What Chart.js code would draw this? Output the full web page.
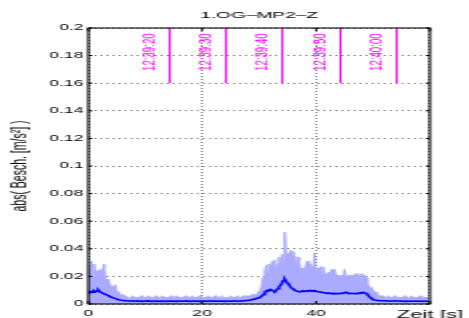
<!DOCTYPE html>
<html><head><meta charset="utf-8">
<script src="https://cdn.jsdelivr.net/npm/chart.js@4"></script>
<style>
html,body{margin:0;padding:0;background:#fff;overflow:hidden}
#wrap{position:absolute;left:0;top:0;width:234.5px;height:318px;transform:scaleX(2);transform-origin:0 0}
</style></head><body>
<div id="wrap"><canvas id="c"></canvas></div>
<script>
// sampling grid: one sample every 0.25 s from 0 to 60 s
const sampleStep = 0.25;
const timeS = [];
for (let i = 0; i <= 240; i++) timeS.push(i * sampleStep);

// envelope (max) of |acceleration| [m/s^2]
const envVals = [
 0.027,0.021,0.031,0.019,0.029,0.021,0.024,0.018,0.025,0.020,0.026,0.029,0.017,0.018,0.014,0.015,0.012,0.013,0.011,0.014,
 0.008,0.009,0.007,0.006,0.007,0.005,0.006,0.005,0.005,0.004,0.005,0.006,0.004,0.005,0.004,0.005,0.004,0.006,0.005,0.004,
 0.005,0.004,0.006,0.004,0.005,0.005,0.004,0.006,0.004,0.005,0.004,0.005,0.006,0.004,0.005,0.004,0.005,0.004,0.006,0.005,
 0.004,0.005,0.006,0.004,0.005,0.004,0.005,0.004,0.006,0.004,0.005,0.005,0.004,0.006,0.004,0.005,0.004,0.005,0.006,0.004,
 0.005,0.004,0.005,0.004,0.006,0.005,0.004,0.005,0.004,0.006,0.004,0.005,0.004,0.005,0.006,0.004,0.005,0.004,0.005,0.004,
 0.006,0.004,0.005,0.004,0.005,0.006,0.004,0.005,0.005,0.006,0.004,0.006,0.005,0.006,0.005,0.007,0.006,0.007,0.006,0.008,
 0.008,0.010,0.015,0.020,0.024,0.028,0.022,0.029,0.025,0.031,0.026,0.032,0.022,0.029,0.034,0.027,0.036,0.030,0.052,0.033,
 0.037,0.028,0.039,0.038,0.030,0.035,0.026,0.034,0.031,0.024,0.026,0.022,0.025,0.029,0.031,0.024,0.029,0.027,0.024,0.037,
 0.022,0.026,0.020,0.027,0.021,0.027,0.019,0.022,0.020,0.023,0.021,0.025,0.019,0.025,0.021,0.020,0.021,0.018,0.021,0.019,
 0.025,0.020,0.018,0.021,0.019,0.021,0.018,0.020,0.022,0.019,0.021,0.018,0.022,0.020,0.021,0.019,0.014,0.013,0.012,0.011,
 0.010,0.009,0.0085,0.007,0.006,0.006,0.005,0.006,0.005,0.004,0.005,0.006,0.004,0.005,0.004,0.006,0.005,0.004,0.005,0.004,
 0.005,0.004,0.006,0.004,0.005,0.004,0.005,0.006,0.004,0.005,0.004,0.005,0.004,0.006,0.005,0.004,0.005,0.004,0.005,0.004,
 0.004
];

// running mean of |acceleration| [m/s^2]
const meanVals = [
 0.0080,0.0090,0.0090,0.0085,0.0095,0.0088,0.0095,0.0100,0.0088,0.0085,0.0078,0.0075,0.0070,0.0065,0.0060,0.0055,0.0050,0.0046,0.0043,0.0040,
 0.0035,0.0032,0.0030,0.0028,0.0026,0.0025,0.0024,0.0023,0.0022,0.0022,0.0021,0.0022,0.0021,0.0020,0.0021,0.0022,0.0020,0.0021,0.0020,0.0021,
 0.0021,0.0020,0.0022,0.0020,0.0021,0.0020,0.0021,0.0022,0.0020,0.0021,0.0020,0.0021,0.0020,0.0022,0.0021,0.0020,0.0021,0.0020,0.0022,0.0021,
 0.0020,0.0021,0.0020,0.0022,0.0021,0.0020,0.0021,0.0020,0.0021,0.0022,0.0020,0.0021,0.0020,0.0021,0.0022,0.0020,0.0021,0.0020,0.0021,0.0020,
 0.0021,0.0022,0.0020,0.0021,0.0020,0.0021,0.0022,0.0020,0.0021,0.0020,0.0021,0.0020,0.0022,0.0021,0.0020,0.0021,0.0020,0.0022,0.0021,0.0020,
 0.0021,0.0020,0.0021,0.0022,0.0020,0.0021,0.0022,0.0021,0.0022,0.0023,0.0024,0.0025,0.0026,0.0028,0.0030,0.0032,0.0035,0.0038,0.0040,0.0043,
 0.0045,0.0050,0.0058,0.0068,0.0085,0.0095,0.0100,0.0098,0.0105,0.0100,0.0094,0.0090,0.0098,0.0110,0.0125,0.0135,0.0150,0.0170,0.0180,0.0165,
 0.0150,0.0138,0.0125,0.0115,0.0108,0.0100,0.0095,0.0092,0.0090,0.0088,0.0092,0.0094,0.0090,0.0095,0.0097,0.0094,0.0098,0.0096,0.0094,0.0098,
 0.0092,0.0090,0.0088,0.0087,0.0085,0.0083,0.0082,0.0080,0.0078,0.0080,0.0076,0.0078,0.0075,0.0077,0.0074,0.0076,0.0075,0.0078,0.0076,0.0080,
 0.0082,0.0085,0.0080,0.0078,0.0076,0.0078,0.0077,0.0075,0.0077,0.0076,0.0078,0.0082,0.0080,0.0084,0.0082,0.0078,0.0068,0.0058,0.0048,0.0040,
 0.0034,0.0030,0.0028,0.0026,0.0025,0.0024,0.0024,0.0023,0.0023,0.0022,0.0023,0.0022,0.0022,0.0021,0.0022,0.0021,0.0022,0.0021,0.0021,0.0020,
 0.0021,0.0020,0.0021,0.0020,0.0021,0.0020,0.0020,0.0021,0.0020,0.0020,0.0021,0.0020,0.0020,0.0021,0.0020,0.0020,0.0020,0.0021,0.0020,0.0020,
 0.0020
];

// clock-time markers
const markerTimes = [14, 24, 34, 44, 54];
const markerLabels = ['12:39:20', '12:39:30', '12:39:40', '12:39:50', '12:40:00'];
const markerTop = 0.2, markerBottom = 0.16, markerLabelY = 0.1825;

// ticks
const xTickValues = [0, 20, 40, 60];
const xTickLabels = ['0', '20', '40', 'Zeit [s]'];
const yTickValues = [0, 0.02, 0.04, 0.06, 0.08, 0.1, 0.12, 0.14, 0.16, 0.18, 0.2];
const yTickLabels = ['0', '0.02', '0.04', '0.06', '0.08', '0.1', '0.12', '0.14', '0.16', '0.18', '0.2'];

const FONT = '"Liberation Sans", Arial, Helvetica, sans-serif';

const matlabAxes = {
  id: 'matlabAxes',
  afterDraw(chart) {
    const {ctx, chartArea: a, scales: {x, y}} = chart;
    const line = (x1, y1, x2, y2) => { ctx.beginPath(); ctx.moveTo(x1, y1); ctx.lineTo(x2, y2); ctx.stroke(); };
    ctx.save();
    // markers
    ctx.strokeStyle = '#ff00ff';
    ctx.lineWidth = 1;
    markerTimes.forEach((t, i) => {
      const raw = x.getPixelForValue(t);
      const px = Math.round(raw) + 0.5;
      line(px, y.getPixelForValue(markerTop), px, y.getPixelForValue(markerBottom));
      ctx.save();
      ctx.translate(raw - 9.7, y.getPixelForValue(markerLabelY));
      ctx.rotate(-Math.PI / 2);
      ctx.fillStyle = '#ff00ff';
      ctx.font = '9.7px ' + FONT;
      ctx.textAlign = 'center';
      ctx.textBaseline = 'middle';
      ctx.fillText(markerLabels[i], 0, 0);
      ctx.restore();
    });
    // box
    ctx.strokeStyle = '#000';
    ctx.lineWidth = 1.1;
    ctx.strokeRect(a.left, a.top, a.right - a.left, a.bottom - a.top);
    ctx.lineWidth = 1;
    y.ticks.forEach(t => {
      const py = y.getPixelForValue(t.value);
      line(a.left, py, a.left + 2, py);
      line(a.right, py, a.right - 2, py);
    });
    x.ticks.forEach(t => {
      const px = x.getPixelForValue(t.value);
      line(px, a.bottom, px, a.bottom - 3);
      line(px, a.top, px, a.top + 3);
    });
    ctx.restore();
  }
};

new Chart(document.getElementById('c'), {
  type: 'line',
  data: {
    labels: timeS,
    datasets: [
      {label: 'Mittelwert', data: meanVals, borderColor: '#0000ff', borderWidth: 1.5, pointRadius: 0, fill: false, tension: 0},
      {label: 'Maximum', data: envVals, borderColor: '#aaaaff', backgroundColor: '#aaaaff', borderWidth: 1, pointRadius: 0, fill: 'origin', tension: 0}
    ]
  },
  options: {
    responsive: true,
    maintainAspectRatio: false,
    animation: false,
    devicePixelRatio: 1,
    layout: {padding: {left: 0, right: 20, top: 0, bottom: 0}},
    plugins: {
      legend: {display: false},
      tooltip: {enabled: false},
      title: {display: true, fullSize: false, text: '1.OG–MP2–Z', color: '#000',
        font: {family: FONT, size: 9.5, weight: 'normal', lineHeight: 1.2},
        padding: {top: 9.5, bottom: 7.1}}
    },
    scales: {
      x: {
        type: 'linear', min: 0, max: 60, z: 1,
        afterFit(s) { s.height = 14; },
        afterBuildTicks(s) { s.ticks = xTickValues.map(v => ({value: v})); },
        ticks: {callback: (v, i) => xTickLabels[i], color: '#000',
          font: (c) => ({family: FONT, size: c.index === xTickLabels.length - 1 ? 11 : 8.7}),
          padding: 4, maxRotation: 0, autoSkip: false},
        grid: {color: '#808080', lineWidth: 1, drawTicks: false},
        border: {display: false, dash: [1, 2]}
      },
      y: {
        min: 0, max: 0.2, z: 1,
        afterFit(s) { s.width = 44; },
        afterBuildTicks(s) { s.ticks = yTickValues.map(v => ({value: v})); },
        ticks: {callback: (v, i) => yTickLabels[i], color: '#000', font: {family: FONT, size: 8.7}, padding: 2.5, autoSkip: false},
        title: {display: true, text: 'abs( Besch. [m/s²] )', color: '#000', font: {family: FONT, size: 10.5, lineHeight: 1.2}, padding: {top: 4, bottom: 0}},
        grid: {color: '#808080', lineWidth: 1, drawTicks: false},
        border: {display: false, dash: [1, 2]}
      }
    }
  },
  plugins: [matlabAxes]
});
</script>
</body></html>
